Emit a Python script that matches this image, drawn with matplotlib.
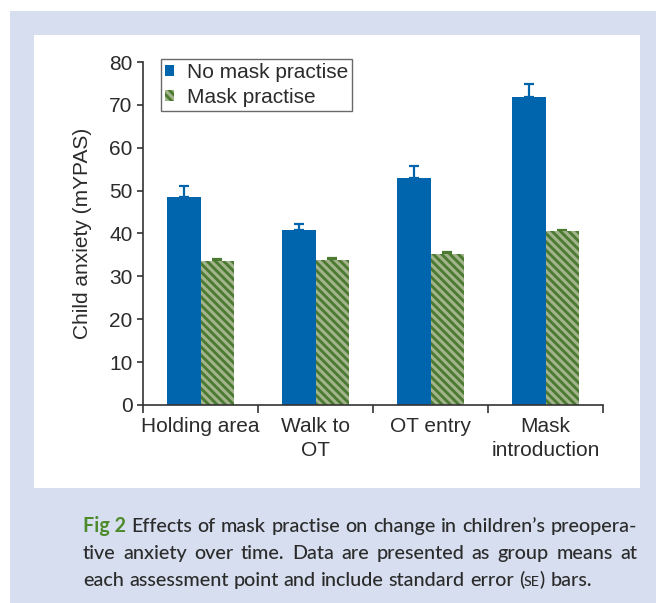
import matplotlib
matplotlib.use("Agg")
import matplotlib.pyplot as plt
from matplotlib.patches import Rectangle, Patch

# data
categories = ["Holding area", "Walk to\nOT", "OT entry", "Mask\nintroduction"]
no_mask = [48.5, 40.8, 52.9, 71.8]
no_mask_se = [2.6, 1.5, 2.8, 3.1]
mask = [33.6, 33.8, 35.2, 40.6]
mask_se = [0.4, 0.4, 0.5, 0.3]

BLUE = "#0065ad"
GREEN = "#4b7a31"
STRIPE = "#a3b38c"
TEXT = "#2b2b2b"
FS = 15

plt.rcParams["font.family"] = ["Liberation Sans", "DejaVu Sans"]
plt.rcParams["hatch.linewidth"] = 2.2

fig = plt.figure(figsize=(6.56, 6.03), dpi=100, facecolor="white")

# page background + white panel
fig.patches.append(Rectangle((10 / 656, 0), 1 - 10 / 656, (603 - 11) / 603,
                             transform=fig.transFigure, facecolor="#d6deef",
                             edgecolor="none", zorder=-2))
fig.patches.append(Rectangle((34 / 656, (603 - 488) / 603), (640 - 34) / 656,
                             (488 - 35) / 603, transform=fig.transFigure,
                             facecolor="white", edgecolor="none", zorder=-1))

ax = fig.add_axes([143 / 656, (603 - 405) / 603, 460 / 656, 343 / 603])
ax.patch.set_alpha(0)

w = 0.287
xs = [i + 0.5 for i in range(len(categories))]
x1 = [x - w / 2 for x in xs]
x2 = [x + w / 2 for x in xs]

ax.errorbar(x1, no_mask, yerr=[[0] * 4, no_mask_se], fmt="none",
            ecolor=BLUE, elinewidth=1.6, capsize=3.5, capthick=1.6, zorder=1)
ax.errorbar(x2, mask, yerr=[[0] * 4, mask_se], fmt="none",
            ecolor=GREEN, elinewidth=1.6, capsize=3.5, capthick=1.6, zorder=1)
ax.bar(x1, no_mask, width=w, color=BLUE, linewidth=0, zorder=2)
ax.bar(x2, mask, width=w, facecolor=GREEN, edgecolor=STRIPE, hatch="\\\\\\\\",
       linewidth=0, zorder=2)

ax.set_xlim(0, 4)
ax.set_ylim(0, 80)
ax.set_yticks(range(0, 81, 10))
ax.set_xticks(range(0, 5))
ax.set_xticklabels([])
ax.set_xticks(xs, minor=True)
ax.set_xticklabels(categories, minor=True, fontsize=FS, color=TEXT,
                   linespacing=1.3)
ax.tick_params(axis="x", which="major", length=6, width=1.2, color="#333333")
ax.tick_params(axis="x", which="minor", length=0, pad=9)
ax.tick_params(axis="y", length=4.5, width=1.2, color="#333333", pad=3,
               labelsize=FS, labelcolor=TEXT)
for s in ["top", "right"]:
    ax.spines[s].set_visible(False)
for s in ["left", "bottom"]:
    ax.spines[s].set_linewidth(1.2)
    ax.spines[s].set_color("#333333")

ax.set_ylabel("Child anxiety (mYPAS)", fontsize=FS, color=TEXT)
ax.yaxis.set_label_coords(-0.111, 0.5)

handles = [Patch(facecolor=BLUE, linewidth=0, label="No mask practise"),
           Patch(facecolor=GREEN, edgecolor=STRIPE, hatch="\\\\\\\\",
                 linewidth=0, label="Mask practise")]
leg = ax.legend(handles=handles, loc="upper left", bbox_to_anchor=(0.039, 1.01),
                borderaxespad=0, fontsize=FS, frameon=True, fancybox=False,
                handlelength=0.45, handleheight=0.45, handletextpad=0.6,
                labelspacing=0.3, borderpad=0.2)
leg.get_frame().set_edgecolor("#444444")
leg.get_frame().set_linewidth(1.0)
for t in leg.get_texts():
    t.set_color(TEXT)

# caption, justified line by line
cap_font = ["Lato", "DejaVu Sans"]
cap_size = 14.2
lines = [
    [[("Fig 2", "bold", "#4d8a2c", cap_size)], [("Effects", None, TEXT, cap_size)],
     [("of", None, TEXT, cap_size)], [("mask", None, TEXT, cap_size)],
     [("practise", None, TEXT, cap_size)], [("on", None, TEXT, cap_size)],
     [("change", None, TEXT, cap_size)], [("in", None, TEXT, cap_size)],
     [("children\u2019s", None, TEXT, cap_size)], [("preopera-", None, TEXT, cap_size)]],
    [[(wd, None, TEXT, cap_size)] for wd in
     "tive anxiety over time. Data are presented as group means at".split()],
    [[(wd, None, TEXT, cap_size)] for wd in
     "each assessment point and include standard error".split()]
    + [[("(", None, TEXT, cap_size), ("SE", None, TEXT, cap_size * 0.72),
        (")", None, TEXT, cap_size)], [("bars.", None, TEXT, cap_size)]],
]
baselines = [532, 559, 586]
x_left, x_right = 83, 637

fig.canvas.draw()
r = fig.canvas.get_renderer()


def make(x, y, s, weight, color, size):
    return fig.text(x / 656, 1 - y / 603, s, fontsize=size, color=color,
                    family=cap_font, fontweight=weight or "medium",
                    va="baseline", ha="left")


for li, (words, yb) in enumerate(zip(lines, baselines)):
    # measure each word
    widths = []
    for word in words:
        tot = 0
        for s, wt, c, sz in word:
            t = make(0, yb, s, wt, c, sz)
            tot += t.get_window_extent(r).width
            t.remove()
        widths.append(tot)
    if li < len(lines) - 1:
        gap = (x_right - x_left - sum(widths)) / (len(words) - 1)
    else:
        t = make(0, yb, "a b", None, TEXT, cap_size)
        t2 = make(0, yb, "ab", None, TEXT, cap_size)
        gap = t.get_window_extent(r).width - t2.get_window_extent(r).width
        t.remove()
        t2.remove()
    x = x_left
    for word, wd in zip(words, widths):
        xx = x
        for s, wt, c, sz in word:
            t = make(xx, yb, s, wt, c, sz)
            xx += t.get_window_extent(r).width
        x += wd + gap

fig.savefig("out.png", dpi=100, facecolor=fig.get_facecolor())
